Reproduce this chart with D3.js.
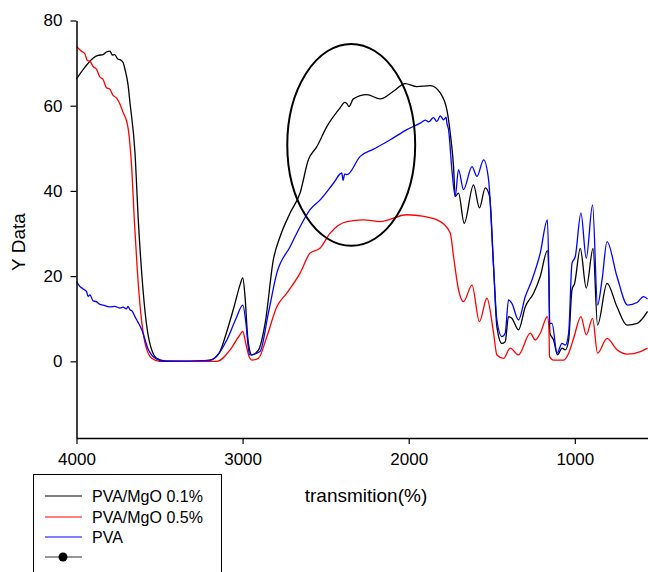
<!DOCTYPE html>
<html>
<head>
<meta charset="utf-8">
<script src="https://cdn.jsdelivr.net/npm/d3@7"></script>
<style>
  body { margin: 0; background: #fff; }
  text { font-family: "Liberation Sans", Arial, sans-serif; }
</style>
</head>
<body>
<div id="chart"></div>
<script>
// series names (legend)
var seriesNames = ["PVA/MgO 0.1%", "PVA/MgO 0.5%", "PVA"];
var seriesColors = ["#000000", "#ff0000", "#0000ff"];

// [wavenumber, value]
var pvaMgO01 = [[4000,66.3],[3950,69],[3899,71.2],[3870,71.8],[3840,72.0],[3820,72.6],[3798,72.8],[3785,71.9],[3770,72.0],[3750,70.9],[3738,70.8],[3720,70.2],[3708,68.5],[3690,65],[3678,60.7],[3648,49],[3628,33.2],[3601,17.5],[3567,5.8],[3517,0.7],[3467,0.1],[3300,0],[3196,0.3],[3140,2],[3095,7],[3050,13],[3015,18],[2999,19.6],[2985,15],[2970,6],[2957,2.5],[2945,1.5],[2905,2.6],[2864,9],[2815,23.8],[2774,29.3],[2714,34.8],[2654,39.5],[2604,47.3],[2553,50.4],[2493,55.1],[2413,59.5],[2385,60.8],[2372,60.5],[2360,59.8],[2333,61.6],[2252,62.6],[2172,61.6],[2092,63.4],[2021,65.2],[1951,64.5],[1869,64.7],[1810,63],[1770,59],[1750,53.6],[1730,45.7],[1720,38.7],[1700,39.5],[1666,32.4],[1610,41.4],[1574,36],[1539,40.7],[1513,38.7],[1489,22.2],[1469,8.1],[1439,4.2],[1419,4.6],[1399,10.5],[1379,10.1],[1339,7.4],[1298,12.8],[1248,16],[1208,19.9],[1165,26],[1156,20],[1150,6.6],[1128,5],[1104,1.5],[1077,3.1],[1057,2.7],[1037,5],[1017,16.8],[1001,18.3],[967,26.5],[931,17.2],[890,26.5],[863,8.5],[806,18.3],[746,12.8],[686,8.5],[625,8.9],[562,11.7]];

var pvaMgO05 = [[4000,73.9],[3970,72.8],[3950,72.2],[3935,70.6],[3919,70.4],[3900,69.2],[3880,68.6],[3860,66.8],[3839,66.1],[3820,64.2],[3800,63.9],[3780,62.4],[3758,61.8],[3740,60.5],[3718,58.3],[3700,56.6],[3688,54.4],[3667,45],[3652,33.2],[3634,21.5],[3613,11.3],[3587,4.2],[3547,0.7],[3500,0],[3155,0],[3075,2.7],[3020,6],[2999,7],[2980,4],[2960,1],[2945,0.3],[2905,0.7],[2854,5.8],[2794,12.8],[2734,16],[2654,20.7],[2594,25.4],[2533,26.6],[2473,30.1],[2372,32.8],[2272,33.2],[2172,32.8],[2011,34.4],[1908,34],[1810,32.8],[1750,30.1],[1730,24.6],[1700,16.8],[1670,14],[1619,17.9],[1574,9.3],[1529,14.8],[1489,6.6],[1469,1.5],[1429,0.7],[1389,3.1],[1339,1.5],[1268,6.6],[1238,5],[1208,6.6],[1165,10.5],[1156,8],[1152,1.1],[1128,0.3],[1067,0.3],[1037,1.9],[1007,5.4],[963,10.5],[931,6.2],[893,10.1],[863,1.9],[806,5.4],[746,2.7],[686,1.7],[605,2.3],[562,3.1]];

var pva = [[4000,18.7],[3980,17.6],[3960,17],[3940,16.4],[3930,15.2],[3919,15.6],[3900,14.2],[3880,14],[3860,13.4],[3839,13.2],[3800,12.8],[3770,12.9],[3738,12.5],[3720,12.7],[3700,12.3],[3690,12.9],[3678,12.1],[3665,11.8],[3648,10.5],[3630,9.2],[3607,7.4],[3567,2.7],[3517,0.5],[3467,0],[3196,0.2],[3150,1.5],[3095,5],[3040,10],[2999,13.2],[2980,9],[2965,3],[2957,1.5],[2895,2.3],[2845,11.3],[2794,20.7],[2714,26.9],[2654,31.6],[2594,35.6],[2533,37.9],[2453,41.8],[2403,44.2],[2395,42.5],[2385,44],[2372,43.8],[2292,48.1],[2212,49.8],[2111,52],[2011,54.4],[1931,55.9],[1900,56.6],[1880,56.2],[1851,57.2],[1830,56.3],[1810,57.6],[1790,56.7],[1775,57.3],[1770,55.9],[1760,54.4],[1740,45],[1720,38.7],[1700,45],[1670,40.3],[1619,45.7],[1589,43.4],[1549,47.3],[1519,42.6],[1489,22.2],[1469,9.7],[1439,5.8],[1419,6.6],[1399,14.4],[1379,13.6],[1339,9.7],[1298,15.2],[1258,19.1],[1208,25.4],[1165,33.2],[1156,20],[1152,8.9],[1137,8.9],[1107,1.9],[1077,4.2],[1057,3.8],[1037,6.6],[1017,23],[997,24.6],[963,34.8],[931,24.2],[893,36.7],[863,13.2],[836,19.1],[806,28.1],[746,19.9],[682,13.2],[625,13.8],[586,15.2],[562,14.6]];

var allSeries = [pvaMgO01, pvaMgO05, pva];

var xTicks = [4000, 3000, 2000, 1000];
var yTicks = [0, 20, 40, 60, 80];

// ellipse annotation, in data units: centre and radii
var ellipseCentre = [2346, 50.8];
var ellipseRadii = [385, 23.7];

var svgWidth = 648;
var svgHeight = 572;

var svg = d3.select("#chart")
  .append("svg")
  .attr("width", svgWidth)
  .attr("height", svgHeight);

var x = d3.scaleLinear()
  .domain([4000, 400])
  .range([76.5, 76.5 + 3600 * 0.1661]);

var y = d3.scaleLinear()
  .domain([-18, 80])
  .range([438, 20.5]);

// lines
var line = d3.line()
  .x(d => x(d[0]))
  .y(d => y(d[1]))
  .curve(d3.curveMonotoneX);

svg.selectAll(".series")
  .data(allSeries)
  .enter()
  .append("path")
  .attr("class", "series")
  .attr("d", line)
  .attr("fill", "none")
  .attr("stroke", (d, i) => seriesColors[i])
  .attr("stroke-width", 1.3);

// ellipse
svg.append("ellipse")
  .attr("cx", x(ellipseCentre[0]))
  .attr("cy", y(ellipseCentre[1]))
  .attr("rx", Math.abs(x(ellipseCentre[0] + ellipseRadii[0]) - x(ellipseCentre[0])))
  .attr("ry", Math.abs(y(ellipseCentre[1] + ellipseRadii[1]) - y(ellipseCentre[1])))
  .attr("fill", "none")
  .attr("stroke", "#000")
  .attr("stroke-width", 2);

// axes
var bottomAxis = d3.axisBottom(x).tickValues(xTicks).tickFormat(d3.format("d"))
  .tickSizeOuter(0).tickSizeInner(6).tickPadding(9);
var leftAxis = d3.axisLeft(y).tickValues(yTicks).tickFormat(d3.format("d"))
  .tickSizeOuter(0).tickSizeInner(6).tickPadding(8);

var gx = svg.append("g")
  .attr("transform", "translate(0, 438)")
  .call(bottomAxis);

var gy = svg.append("g")
  .attr("transform", "translate(76.5, 0)")
  .call(leftAxis);

[gx, gy].forEach(function(g) {
  g.select(".domain").attr("stroke", "#000").attr("stroke-width", 1.5);
  g.selectAll(".tick line").attr("stroke", "#000").attr("stroke-width", 1.2);
  g.selectAll(".tick text")
    .attr("fill", "#000")
    .style("font-family", "'Liberation Sans', Arial, sans-serif")
    .style("font-size", "17px");
});

// axis labels
svg.append("text")
  .attr("transform", "translate(25, 242) rotate(-90)")
  .attr("text-anchor", "middle")
  .style("font-size", "19px")
  .text("Y Data");

svg.append("text")
  .attr("x", 366)
  .attr("y", 502)
  .attr("text-anchor", "middle")
  .style("font-size", "19px")
  .text("transmition(%)");

// legend
var legend = svg.append("g");

legend.append("rect")
  .attr("x", 33.5)
  .attr("y", 474.5)
  .attr("width", 188)
  .attr("height", 120)
  .attr("fill", "#fff")
  .attr("stroke", "#000")
  .attr("stroke-width", 1);

var legendRows = [496, 517, 537];

seriesNames.forEach(function(name, i) {
  legend.append("line")
    .attr("x1", 45).attr("x2", 82)
    .attr("y1", legendRows[i]).attr("y2", legendRows[i])
    .attr("stroke", seriesColors[i])
    .attr("stroke-width", 1.2);
  legend.append("text")
    .attr("x", 92)
    .attr("y", legendRows[i] + 6)
    .style("font-size", "16px")
    .text(name);
});

legend.append("line")
  .attr("x1", 45).attr("x2", 82)
  .attr("y1", 557).attr("y2", 557)
  .attr("stroke", "#333")
  .attr("stroke-width", 1.2);
legend.append("circle")
  .attr("cx", 63).attr("cy", 557).attr("r", 4.5)
  .attr("fill", "#000");
</script>
</body>
</html>
